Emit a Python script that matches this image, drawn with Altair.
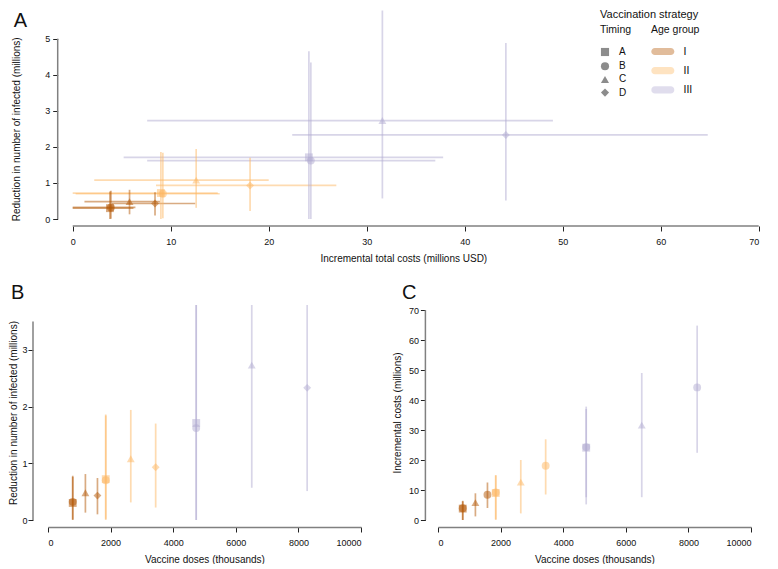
import altair as alt
import pandas as pd

# ---- data ----
timing = ["A", "B", "C", "D", "A", "B", "C", "D", "A", "B", "C", "D"]
age_group = ["I", "I", "I", "I", "II", "II", "II", "II", "III", "III", "III", "III"]
doses = [790, 790, 1195, 1580, 1845, 1845, 2645, 3440, 4735, 4735, 6510, 8280]
reduction = [0.30, 0.32, 0.48, 0.43, 0.72, 0.70, 1.08, 0.93, 1.71, 1.62, 2.73, 2.33]
reduction_lo = [0.00, 0.01, 0.13, 0.10, 0.00, 0.02, 0.31, 0.22, 0.00, 0.00, 0.57, 0.51]
reduction_hi = [0.76, 0.78, 0.81, 0.74, 1.86, 1.84, 1.94, 1.70, 4.65, 4.34, 5.78, 4.88]
cost = [3.8, 3.9, 5.8, 8.4, 9.0, 9.2, 12.6, 18.1, 24.1, 24.3, 31.6, 44.2]
cost_lo = [0.0, 0.0, 1.2, 4.0, 0.0, 0.3, 2.2, 8.5, 5.2, 7.6, 7.6, 22.4]
cost_hi = [6.2, 6.4, 8.9, 12.5, 14.8, 15.0, 20.0, 26.9, 37.8, 37.0, 49.0, 64.8]

age_levels = ["I", "II", "III"]
age_colors = ["#b35806", "#fdb863", "#b2abd2"]
timing_levels = ["A", "B", "C", "D"]

df = pd.DataFrame({
    "timing": timing, "age": age_group, "doses": doses,
    "red": reduction, "red_lo": reduction_lo, "red_hi": reduction_hi,
    "cost": cost, "cost_lo": cost_lo, "cost_hi": cost_hi,
})
one = pd.DataFrame({"k": [0]})
legend_head = pd.DataFrame({"label": ["Vaccination strategy"]})

FONT = "Liberation Sans"
AXIS_GREY = "#808080"
# pill-shaped legend swatch, drawn to the right of the symbol anchor
PILL = "M-0.5,-0.5L1.7,-0.5A0.5,0.5 0 0 1 1.7,0.5L-0.5,0.5A0.5,0.5 0 0 1 -0.5,-0.5Z"

age_scale = alt.Scale(domain=age_levels, range=age_colors)
shape_main = alt.Scale(domain=timing_levels, range=["square", "circle", "triangle-up", "diamond"])
shape_c = alt.Scale(domain=timing_levels, range=["square", "circle", "triangle-up", "circle"])

BAR_W = 1.7
PT_SIZE = 62
ALPHA = 0.5
ruleA = dict(strokeWidth=BAR_W, opacity=ALPHA)


def panel_title(letter, dx, offset):
    return alt.TitleParams(letter, anchor="start", fontSize=20, fontWeight="normal",
                           font=FONT, color="#111", dx=dx, offset=offset)


def y_line(scale, axis, top, off):
    return alt.Chart(one).mark_rule(color=AXIS_GREY, strokeWidth=1.5).encode(
        y=alt.YDatum(0, scale=scale, axis=axis),
        y2=alt.Y2Datum(top),
        x=alt.value(-off),
    )


# ---------------- Panel A ----------------
# panel A shares its left plot edge with panel B, so its x range starts a little below 0
A_LEFT = 24.7
sxA = alt.Scale(domain=[-A_LEFT / 9.8, 70], nice=False, zero=False)
WA = 686 + A_LEFT
HA = 211
YMAX_A = 5.85
syA = alt.Scale(domain=[0, YMAX_A], nice=False, zero=False)
offA = -9.7
axA_x = alt.Axis(title="Incremental total costs (millions USD)", values=list(range(0, 71, 10)),
                 offset=7, format="d", labelPadding=6, titlePadding=7, domain=False)
axA_y = alt.Axis(title="Reduction in number of infected (millions)", values=[0, 1, 2, 3, 4, 5],
                 offset=offA, domain=False, titlePadding=23, labelPadding=3, format="d",
                 titleY=HA * (1 - 2.5 / YMAX_A))

age_legend = alt.Legend(title="Age group", orient="none", legendX=603, legendY=17,
                        symbolType=PILL, symbolSize=207, symbolOpacity=0.4,
                        symbolStrokeWidth=0, rowPadding=6.2, titlePadding=8.5,
                        labelOffset=17.5, padding=0)
timing_legend = alt.Legend(title="Timing", orient="none", legendX=552, legendY=17,
                           symbolSize=66, symbolOpacity=1, rowPadding=-1.8, titlePadding=11.5,
                           labelOffset=9, padding=0, labelFontSize=10)

ptsA = alt.Chart(df).mark_point(filled=True, size=PT_SIZE, opacity=ALPHA).encode(
    x=alt.X("cost:Q", scale=sxA, axis=axA_x),
    y=alt.Y("red:Q", scale=syA, axis=axA_y),
    shape=alt.Shape("timing:N", scale=shape_main, legend=timing_legend),
    color=alt.Color("age:N", scale=age_scale, legend=age_legend),
)
hbarA = alt.Chart(df).mark_rule(**ruleA).encode(
    x=alt.X("cost_lo:Q", scale=sxA, axis=axA_x),
    x2="cost_hi:Q",
    y=alt.Y("red:Q", scale=syA, axis=axA_y),
    color=alt.Color("age:N", scale=age_scale, legend=age_legend),
)
vbarA = alt.Chart(df).mark_rule(**ruleA).encode(
    x=alt.X("cost:Q", scale=sxA, axis=axA_x),
    y=alt.Y("red_lo:Q", scale=syA, axis=axA_y),
    y2="red_hi:Q",
    color=alt.Color("age:N", scale=age_scale, legend=age_legend),
)
x_lineA = alt.Chart(one).mark_rule(color=AXIS_GREY, strokeWidth=1.5).encode(
    x=alt.XDatum(0, scale=sxA, axis=axA_x),
    x2=alt.X2Datum(70),
    y=alt.value(HA + 7),
)
headA = alt.Chart(legend_head).mark_text(align="left", baseline="middle", font=FONT,
                                         fontSize=11, color="#111").encode(
    text="label:N", x=alt.value(552), y=alt.value(7))

panelA = alt.layer(ptsA, hbarA, vbarA, y_line(syA, axA_y, 5, offA), x_lineA, headA).properties(
    width=WA, height=HA, title=panel_title("A", 2, -23))

# ---------------- Panel B ----------------
sxBC = alt.Scale(domain=[0, 10000], nice=False, zero=False)
HB = 215
syB = alt.Scale(domain=[0, 3.79], nice=False, zero=False)
offB = 15
axBC_x = alt.Axis(title="Vaccine doses (thousands)", values=list(range(0, 10001, 2000)), offset=7,
                  format="d", labelPadding=6, titlePadding=7)
axB_y = alt.Axis(title="Reduction in number of infected (millions)", values=[0, 1, 2, 3],
                 offset=offB, domain=False, titlePadding=3, labelPadding=1, format="d")

ptsB = alt.Chart(df).mark_point(filled=True, size=PT_SIZE, opacity=ALPHA, clip=True).encode(
    x=alt.X("doses:Q", scale=sxBC, axis=axBC_x),
    y=alt.Y("red:Q", scale=syB, axis=axB_y),
    shape=alt.Shape("timing:N", scale=shape_main, legend=None),
    color=alt.Color("age:N", scale=age_scale, legend=None),
)
vbarB = alt.Chart(df).mark_rule(clip=True, **ruleA).encode(
    x=alt.X("doses:Q", scale=sxBC, axis=axBC_x),
    y=alt.Y("red_lo:Q", scale=syB, axis=axB_y),
    y2="red_hi:Q",
    color=alt.Color("age:N", scale=age_scale, legend=None),
)
panelB = alt.layer(ptsB, vbarB, y_line(syB, axB_y, 3.5, offB)).properties(
    width=313, height=HB, title=panel_title("B", 2, 2))

# ---------------- Panel C ----------------
syC = alt.Scale(domain=[0, 71.67], nice=False, zero=False)
offC = 12.6
axC_y = alt.Axis(title="Incremental costs (millions)", values=list(range(0, 71, 10)),
                 offset=offC, domain=False, titlePadding=5.5, labelPadding=2, format="d")
ptsC = alt.Chart(df).mark_point(filled=True, size=PT_SIZE, opacity=ALPHA, clip=True).encode(
    x=alt.X("doses:Q", scale=sxBC, axis=axBC_x),
    y=alt.Y("cost:Q", scale=syC, axis=axC_y),
    shape=alt.Shape("timing:N", scale=shape_c, legend=None),
    color=alt.Color("age:N", scale=age_scale, legend=None),
)
vbarC = alt.Chart(df).mark_rule(clip=True, **ruleA).encode(
    x=alt.X("doses:Q", scale=sxBC, axis=axBC_x),
    y=alt.Y("cost_lo:Q", scale=syC, axis=axC_y),
    y2="cost_hi:Q",
    color=alt.Color("age:N", scale=age_scale, legend=None),
)
panelC = alt.layer(ptsC, vbarC, y_line(syC, axC_y, 70, offC)).properties(
    width=313, height=HB, title=panel_title("C", 9, 2))

row = alt.hconcat(panelB, panelC, spacing=30).resolve_scale(
    shape="independent", color="independent").resolve_legend(
    shape="independent", color="independent")

chart = alt.vconcat(panelA, row, spacing=20).resolve_scale(
    shape="independent", color="independent").resolve_legend(
    shape="independent", color="independent").properties(
    padding=0
).configure_view(stroke=None).configure_axis(
    grid=False, domainColor=AXIS_GREY, domainWidth=1.5, tickColor="#222", tickSize=5,
    tickWidth=1, labelFont=FONT, labelFontSize=9, labelColor="#111", labelPadding=5,
    titleFont=FONT, titleFontSize=10, titleFontWeight="normal", titleColor="#111",
    titlePadding=6,
).configure_legend(
    titleFont=FONT, titleFontSize=10.5, titleFontWeight="normal", titleColor="#111",
    labelFont=FONT, labelFontSize=10.5, labelColor="#111",
    symbolBaseFillColor="#8c8c8c", symbolBaseStrokeColor="#8c8c8c",
).configure_title(font=FONT)

chart.save("out.html", embed_options={"renderer": "svg", "actions": False})
